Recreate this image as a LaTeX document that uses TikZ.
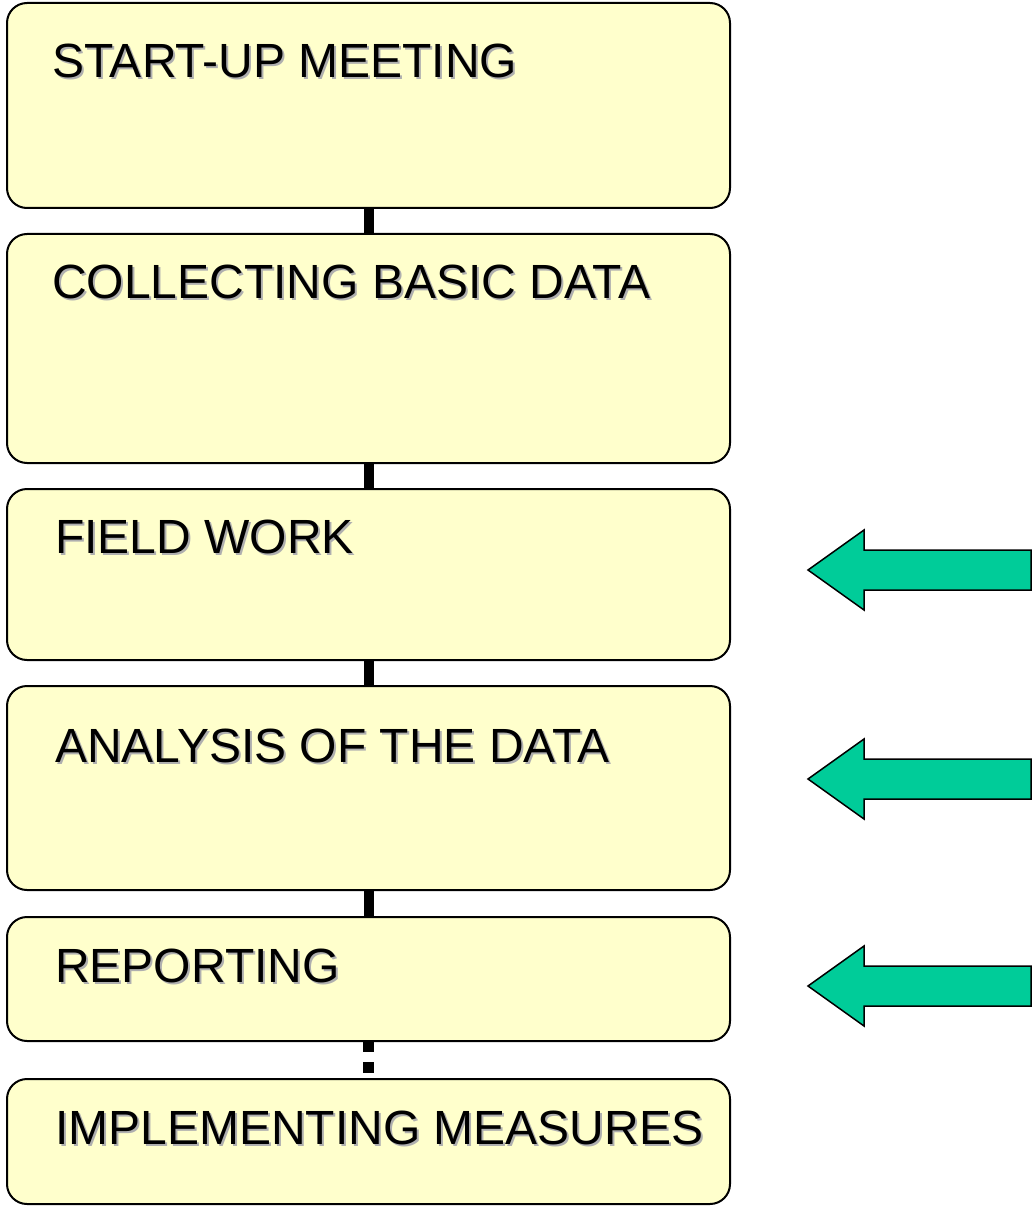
\documentclass[tikz,border=0pt]{standalone}
\usepackage{fontspec}
\setmainfont{Liberation Sans}
\definecolor{boxfill}{RGB}{255,255,204}
\definecolor{arrowgreen}{RGB}{0,204,153}
\definecolor{shadowgray}{RGB}{175,175,175}
\begin{document}
\begin{tikzpicture}[x=1pt,y=-1pt,
  stage/.style={draw=black,line width=2pt,fill=boxfill,rounded corners=20pt,
    minimum width=723pt,inner sep=0pt,outer sep=0pt},
  lbl/.style={anchor=base west,inner sep=0pt,font=\fontsize{48}{56}\selectfont},
  shd/.style={lbl,text=shadowgray},
  link/.style={line width=10pt,draw=black},
  dlink/.style={line width=11pt,draw=black,dash pattern=on 11pt off 10pt},
  bigarrow/.style={draw=black,line width=1.5pt,fill=arrowgreen,line join=miter}]
\useasboundingbox (0,0) rectangle (1035,1206);
% boxes
\node[stage,minimum height=205pt] (b1) at (368.5,105.5) {};
\node[stage,minimum height=229pt] (b2) at (368.5,348.5) {};
\node[stage,minimum height=171pt] (b3) at (368.5,574.5) {};
\node[stage,minimum height=204pt] (b4) at (368.5,788) {};
\node[stage,minimum height=124pt] (b5) at (368.5,979) {};
\node[stage,minimum height=125pt] (b6) at (368.5,1141.5) {};
% connectors
\draw[link] (b1.south) -- (b2.north);
\draw[link] (b2.south) -- (b3.north);
\draw[link] (b3.south) -- (b4.north);
\draw[link] (b4.south) -- (b5.north);
\draw[dlink] (b5.south) -- (b6.north);
% labels with shadow
\node[shd] (s1) at (54,80) {START-UP MEETING};
\node[lbl] (t1) at (52,78) {START-UP MEETING};
\node[shd] (s2) at (54,300) {COLLECTING BASIC DATA};
\node[lbl] (t2) at (52,298) {COLLECTING BASIC DATA};
\node[shd] (s3) at (57,555) {FIELD WORK};
\node[lbl] (t3) at (55,553) {FIELD WORK};
\node[shd] (s4) at (57,764) {ANALYSIS OF THE DATA};
\node[lbl] (t4) at (55,762) {ANALYSIS OF THE DATA};
\node[shd] (s5) at (57,984) {REPORTING};
\node[lbl] (t5) at (55,982) {REPORTING};
\node[shd] (s6) at (57,1146) {IMPLEMENTING MEASURES};
\node[lbl] (t6) at (55,1144) {IMPLEMENTING MEASURES};
% green arrows
\foreach \cy in {570,779,986}{
  \draw[bigarrow] (808,\cy) -- (864,\cy-40) -- (864,\cy-20) -- (1031,\cy-20)
    -- (1031,\cy+20) -- (864,\cy+20) -- (864,\cy+40) -- cycle;
}
\end{tikzpicture}
\end{document}
